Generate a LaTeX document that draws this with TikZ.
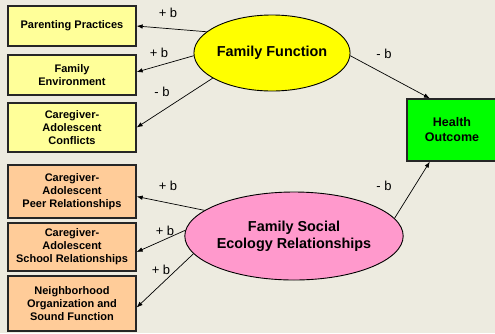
\documentclass[tikz,border=0pt]{standalone}
\usepackage{fontspec}
\setmainfont{Liberation Sans}
\usetikzlibrary{arrows.meta,shapes.geometric}
\definecolor{bgcol}{RGB}{237,235,224}
\definecolor{boxyellow}{RGB}{255,255,153}
\definecolor{boxorange}{RGB}{255,204,153}
\definecolor{ellpink}{RGB}{255,153,204}
\definecolor{ellyellow}{RGB}{255,255,0}
\definecolor{outgreen}{RGB}{0,255,0}
\begin{document}
\begin{tikzpicture}[x=1pt,y=-1pt,
	box/.style={draw=black!85,line width=1.3pt,rectangle,minimum width=128pt,inner sep=0pt,align=center,font=\bfseries\fontsize{11}{13}\selectfont},
	latent/.style={draw=black,line width=0.9pt,ellipse,inner sep=0pt,align=center,font=\bfseries\fontsize{14.4}{17}\selectfont},
	path/.style={-{Latex[length=6pt,width=4.5pt]},line width=0.7pt},
	coef/.style={font=\fontsize{13}{15}\selectfont}]
	
	\fill[bgcol] (0,0) rectangle (495,333);
	\useasboundingbox (0,0) rectangle (495,333);
	
	% indicator boxes
	\node[box,fill=boxyellow,minimum height=40pt] (pp) at (72,26) {Parenting Practices};
	\node[box,fill=boxyellow,minimum height=40pt] (fe) at (72,75) {Family\\Environment};
	\node[box,fill=boxyellow,minimum height=49pt] (cac) at (72,127.5) {Caregiver-\\Adolescent\\Conflicts};
	\node[box,fill=boxorange,minimum height=53pt] (peer) at (72,191.5) {Caregiver-\\Adolescent\\Peer Relationships};
	\node[box,fill=boxorange,minimum height=48pt] (school) at (72,247) {Caregiver-\\Adolescent\\School Relationships};
	\node[box,fill=boxorange,minimum height=55pt] (nbh) at (72,303.5) {Neighborhood\\Organization and\\Sound Function};
	
	% latent variables
	\node[latent,fill=ellyellow,minimum width=142pt,minimum height=76pt] (ffun) at (272,53) {Family Function};
	\node[latent,fill=ellpink,minimum width=176pt,minimum height=88pt] (fser) at (294,236) {Family Social\\Ecology Relationships};
	
	% outcome
	\node[box,fill=outgreen,minimum width=90pt,minimum height=62pt,font=\bfseries\fontsize{12.5}{15}\selectfont] (ho) at (452,130) {Health\\Outcome};
	
	% paths
	\draw[path] (ffun.162) -- (pp.east);
	\draw[path] (ffun.182) -- ([yshift=3pt]fe.east);
	\draw[path] (ffun.203) -- (cac.east);
	\draw[path] (fser.164) -- ([yshift=-5pt]peer.east);
	\draw[path] (fser.177) -- ([yshift=-5pt]school.east);
	\draw[path] (fser.190) -- ([yshift=-4pt]nbh.east);
	\draw[path] (ffun.-2) -- (ho.125);
	\draw[path] (fser.10) -- (ho.235);
	
	% coefficients
	\node[coef] (c1) at (168,13) {+ b};
	\node[coef] (c2) at (159,53) {+ b};
	\node[coef] (c3) at (162,92) {- b};
	\node[coef] (c4) at (168,186) {+ b};
	\node[coef] (c5) at (165,231) {+ b};
	\node[coef] (c6) at (161,270) {+ b};
	\node[coef] (c7) at (384,54) {- b};
	\node[coef] (c8) at (384,186) {- b};
	
\end{tikzpicture}
\end{document}
